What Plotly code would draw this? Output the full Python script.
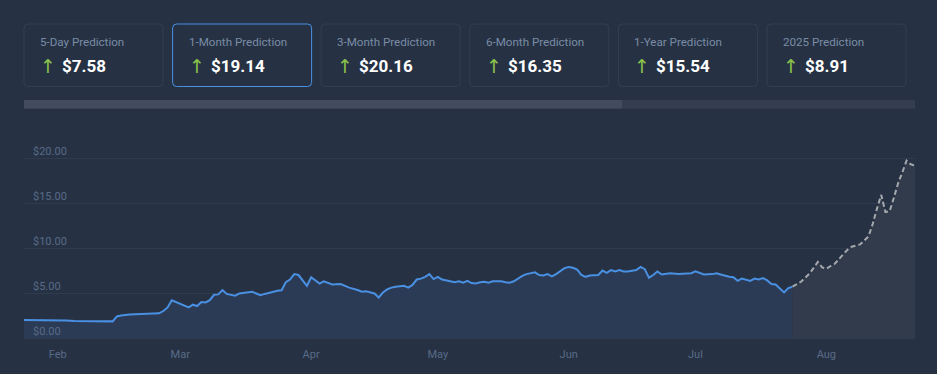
import plotly.graph_objects as go

# ---------------- data ----------------
card_titles = ["5-Day Prediction", "1-Month Prediction", "3-Month Prediction",
               "6-Month Prediction", "1-Year Prediction", "2025 Prediction"]
card_values = ["$7.58", "$19.14", "$20.16", "$16.35", "$15.54", "$8.91"]
selected_card = 1

hist_dates = [
    "2024-01-24", "2024-01-28", "2024-01-31", "2024-02-03", "2024-02-05", "2024-02-07",
    "2024-02-10", "2024-02-12", "2024-02-14", "2024-02-15", "2024-02-16", "2024-02-18",
    "2024-02-20", "2024-02-23", "2024-02-25", "2024-02-26", "2024-02-27", "2024-02-28",
    "2024-02-29", "2024-03-01", "2024-03-03", "2024-03-04", "2024-03-05", "2024-03-06",
    "2024-03-07", "2024-03-08", "2024-03-09", "2024-03-10", "2024-03-11", "2024-03-12",
    "2024-03-14", "2024-03-15", "2024-03-16", "2024-03-18", "2024-03-19", "2024-03-20",
    "2024-03-21", "2024-03-23", "2024-03-24", "2024-03-25", "2024-03-26", "2024-03-27",
    "2024-03-28", "2024-03-29", "2024-03-30", "2024-03-31", "2024-04-01", "2024-04-02",
    "2024-04-03", "2024-04-04", "2024-04-05", "2024-04-06", "2024-04-08", "2024-04-10",
    "2024-04-12", "2024-04-13", "2024-04-14", "2024-04-15", "2024-04-16", "2024-04-17",
    "2024-04-18", "2024-04-19", "2024-04-20", "2024-04-21", "2024-04-23", "2024-04-24",
    "2024-04-25", "2024-04-26", "2024-04-27", "2024-04-28", "2024-04-29", "2024-04-30",
    "2024-05-01", "2024-05-02", "2024-05-03", "2024-05-04", "2024-05-05", "2024-05-06",
    "2024-05-07", "2024-05-08", "2024-05-09", "2024-05-10", "2024-05-11", "2024-05-12",
    "2024-05-13", "2024-05-14", "2024-05-15", "2024-05-16", "2024-05-17", "2024-05-18",
    "2024-05-19", "2024-05-20", "2024-05-21", "2024-05-22", "2024-05-23", "2024-05-24",
    "2024-05-25", "2024-05-26", "2024-05-27", "2024-05-28", "2024-05-29", "2024-05-30",
    "2024-05-31", "2024-06-01", "2024-06-02", "2024-06-03", "2024-06-04", "2024-06-05",
    "2024-06-06", "2024-06-08", "2024-06-09", "2024-06-10", "2024-06-11", "2024-06-12",
    "2024-06-13", "2024-06-14", "2024-06-15", "2024-06-17", "2024-06-18", "2024-06-19",
    "2024-06-20", "2024-06-21", "2024-06-22", "2024-06-23", "2024-06-24", "2024-06-25",
    "2024-06-27", "2024-06-29", "2024-06-30", "2024-07-01", "2024-07-02", "2024-07-03",
    "2024-07-05", "2024-07-06", "2024-07-07", "2024-07-08", "2024-07-09", "2024-07-10",
    "2024-07-11", "2024-07-12", "2024-07-13", "2024-07-14", "2024-07-15", "2024-07-16",
    "2024-07-17", "2024-07-18", "2024-07-19", "2024-07-20", "2024-07-21", "2024-07-22",
    "2024-07-23", "2024-07-24",
]
hist_values = [
    2.0, 2.0, 2.0, 1.95, 1.9, 1.9,
    1.85, 1.85, 1.85, 2.4, 2.5, 2.6,
    2.65, 2.7, 2.75, 3.0, 3.4, 4.2,
    4.0, 3.8, 3.4, 3.7, 3.55, 4.0,
    3.95, 4.2, 4.8, 4.85, 5.33, 4.9,
    4.7, 4.95, 5.0, 5.15, 4.95, 4.75,
    4.9, 5.15, 5.25, 5.3, 6.2, 6.5,
    7.1, 7.0, 6.45, 5.8, 6.75, 6.4,
    6.05, 6.3, 6.1, 5.95, 6.0, 5.6,
    5.33, 5.15, 5.2, 5.1, 4.95, 4.5,
    5.05, 5.4, 5.6, 5.7, 5.8, 5.6,
    5.9, 6.5, 6.6, 6.8, 7.1, 6.55,
    6.8, 6.5, 6.4, 6.3, 6.2, 6.3,
    6.15, 6.35, 6.1, 6.05, 6.2, 6.25,
    6.15, 6.3, 6.3, 6.3, 6.2, 6.15,
    6.3, 6.6, 6.9, 7.1, 7.2, 7.3,
    7.0, 6.95, 7.1, 6.85, 7.1, 7.4,
    7.75, 7.9, 7.8, 7.6, 7.0, 6.8,
    6.95, 7.0, 7.5, 7.25, 7.55, 7.4,
    7.55, 7.4, 7.4, 7.55, 7.9, 7.65,
    6.7, 7.0, 7.4, 7.05, 7.1, 7.2,
    7.1, 7.2, 7.2, 7.4, 7.2, 7.05,
    7.1, 7.2, 7.05, 6.9, 6.8, 6.75,
    6.35, 6.6, 6.5, 6.35, 6.6, 6.5,
    6.65, 6.4, 6.0, 5.95, 5.5, 5.07,
    5.55, 5.7,
]

pred_dates = [
    "2024-07-24", "2024-07-26", "2024-07-28", "2024-07-30", "2024-07-31", "2024-08-01",
    "2024-08-02", "2024-08-03", "2024-08-05", "2024-08-06", "2024-08-07", "2024-08-09",
    "2024-08-11", "2024-08-12", "2024-08-13", "2024-08-14", "2024-08-15", "2024-08-16",
    "2024-08-17", "2024-08-18", "2024-08-19", "2024-08-20", "2024-08-21", "2024-08-22",
]
pred_values = [
    5.7, 6.25, 7.15, 8.45, 7.85, 7.7,
    8.0, 8.25, 9.3, 9.8, 10.15, 10.4,
    11.3, 12.7, 14.4, 15.9, 14.0, 14.1,
    15.6, 17.2, 18.4, 19.7, 19.3, 19.14,
]

y_ticks = [0, 5, 10, 15, 20]
y_tick_text = ["$0.00", "$5.00", "$10.00", "$15.00", "$20.00"]

# ---------------- style ----------------
W, H = 937, 374
PL, PR, PT, PB = 24, 915, 140, 340
Y_RANGE = [-0.22, 22.0]
BG = "#263244"
FONT = "Roboto"
TICK_COLOR = "#596a86"


def fx(x):
    return (x - PL) / (PR - PL)


def fy(y):
    return (PB - y) / (PB - PT)


def rounded_rect(x0, y0, x1, y1, r):
    pts = [
        f"M {fx(x0 + r)},{fy(y0)}",
        f"L {fx(x1 - r)},{fy(y0)}",
        f"Q {fx(x1)},{fy(y0)} {fx(x1)},{fy(y0 + r)}",
        f"L {fx(x1)},{fy(y1 - r)}",
        f"Q {fx(x1)},{fy(y1)} {fx(x1 - r)},{fy(y1)}",
        f"L {fx(x0 + r)},{fy(y1)}",
        f"Q {fx(x0)},{fy(y1)} {fx(x0)},{fy(y1 - r)}",
        f"L {fx(x0)},{fy(y0 + r)}",
        f"Q {fx(x0)},{fy(y0)} {fx(x0 + r)},{fy(y0)}",
        "Z",
    ]
    return " ".join(pts)


fig = go.Figure()

fig.add_trace(go.Scatter(
    x=hist_dates, y=hist_values, mode="lines",
    line=dict(color="#4a90e2", width=2),
    fill="tozeroy", fillcolor="#2b3b55",
    hoverinfo="skip", showlegend=False,
))
fig.add_trace(go.Scatter(
    x=pred_dates, y=pred_values, mode="lines", yaxis="y2",
    line=dict(color="#a5a8ad", width=2, dash="5px,3px"),
    fill="tozeroy", fillcolor="#323b4b",
    hoverinfo="skip", showlegend=False,
))

shapes = []
annotations = []
card_w = 139
card_step = 148.6
for i, (t, v) in enumerate(zip(card_titles, card_values)):
    x0 = 24 + i * card_step
    x1 = x0 + card_w
    sel = i == selected_card
    shapes.append(dict(
        type="path", xref="paper", yref="paper",
        path=rounded_rect(x0, 24, x1, 86.5, 4),
        line=dict(color="#4a90e2" if sel else "#323e51", width=1),
        fillcolor=BG, layer="above",
    ))
    annotations.append(dict(
        xref="paper", yref="paper", x=fx(x0 + 14), y=fy(41.5),
        xanchor="left", yanchor="middle", showarrow=False,
        text=t, font=dict(family=FONT, size=11.6, color="#7a8ba5"),
    ))
    annotations.append(dict(
        xref="paper", yref="paper", x=fx(x0 + 14), y=fy(66),
        xanchor="left", yanchor="middle", showarrow=False,
        text="↑", font=dict(family="DejaVu Sans", size=19, color="#8bc34a"),
    ))
    annotations.append(dict(
        xref="paper", yref="paper", x=fx(x0 + 36), y=fy(66),
        xanchor="left", yanchor="middle", showarrow=False,
        text=f"<b>{v}</b>", font=dict(family=FONT, size=17, color="#ffffff"),
    ))

# scrollbar track & thumb
shapes.append(dict(type="rect", xref="paper", yref="paper",
                   x0=fx(24), x1=fx(915), y0=fy(100), y1=fy(108.5),
                   line=dict(width=0), fillcolor="#343e50", layer="above"))
shapes.append(dict(type="rect", xref="paper", yref="paper",
                   x0=fx(24), x1=fx(622), y0=fy(100), y1=fy(108.5),
                   line=dict(width=0), fillcolor="#434c5e", layer="above"))

fig.update_layout(
    width=W, height=H,
    margin=dict(l=PL, r=W - PR, t=PT, b=H - PB, pad=0),
    paper_bgcolor=BG, plot_bgcolor=BG,
    shapes=shapes, annotations=annotations,
    showlegend=False,
    xaxis=dict(
        type="date", range=["2024-01-24", "2024-08-22"],
        showgrid=False, zeroline=False, showline=False,
        tickformat="%b", dtick="M1", tick0="2024-02-01", ticks="",
        ticklabelstandoff=6,
        tickfont=dict(family=FONT, size=11, color=TICK_COLOR),
        fixedrange=True,
    ),
    yaxis=dict(
        range=Y_RANGE, tickvals=y_ticks, showticklabels=False,
        showgrid=True, gridcolor="#2f3b4f", gridwidth=1,
        zeroline=False, showline=False, ticks="",
        fixedrange=True,
    ),
    yaxis2=dict(
        range=Y_RANGE, tickvals=y_ticks, ticktext=y_tick_text,
        overlaying="y", anchor="free", position=0, side="right",
        showgrid=False, zeroline=False, showline=False, ticks="",
        ticklabelshift=-7, ticklabelstandoff=8,
        tickfont=dict(family=FONT, size=11, color=TICK_COLOR),
        fixedrange=True,
    ),
)

fig.write_html("out.html", config={"displayModeBar": False},
               post_script="document.body.style.margin='0px';")
